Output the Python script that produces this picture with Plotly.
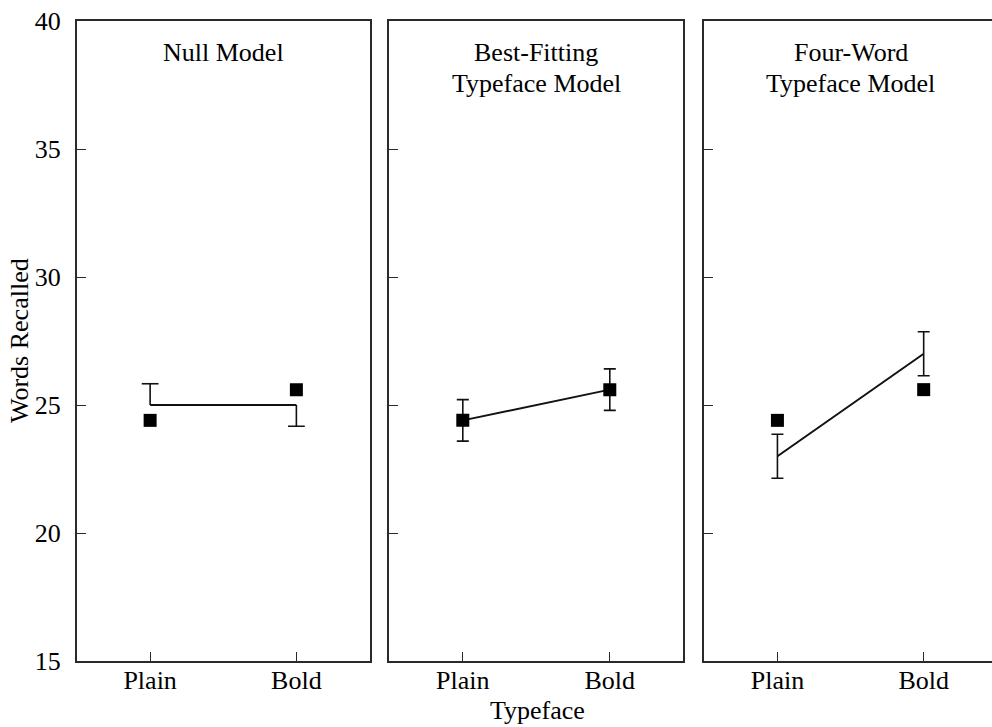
import plotly.graph_objects as go

# ---- data ----
categories = ["Plain", "Bold"]
cat_pos = [1, 2]
observed = [24.4, 25.6]            # observed means (square markers)

null_pred = [25.0, 25.0]
null_err_up = [0.83, 0.0]
null_err_down = [0.0, 0.83]

best_pred = [24.4, 25.6]
best_err = [0.81, 0.81]

four_pred = [23.0, 27.0]
four_err = [0.86, 0.86]

panel_titles = [["Null Model"], ["Best-Fitting", "Typeface Model"], ["Four-Word", "Typeface Model"]]
y_ticks = [15, 20, 25, 30, 35, 40]

FONT = "Liberation Serif"
INK = "#111111"
AX = "#2a2a2a"

fig = go.Figure()

def model_line(xa, ya, pred, err_plus, err_minus, caps=True):
    fig.add_trace(go.Scatter(
        x=cat_pos, y=pred, mode="lines", xaxis=xa, yaxis=ya,
        line=dict(color=INK, width=2), showlegend=False, hoverinfo="skip",
        error_y=dict(type="data", symmetric=False, array=err_plus, arrayminus=err_minus,
                     color=INK, thickness=1.6, width=6 if caps else 0)))

def observed_pts(xa, ya):
    fig.add_trace(go.Scatter(
        x=cat_pos, y=observed, mode="markers", xaxis=xa, yaxis=ya,
        marker=dict(symbol="square", size=13, color="black"),
        showlegend=False))

# Panel 1: null model, one-sided error bars
model_line("x", "y", null_pred, null_err_up, null_err_down, caps=False)
cap_x = []
cap_y = []
for i in range(2):
    if null_err_up[i] > 0:
        cap_x.append(cat_pos[i]); cap_y.append(null_pred[i] + null_err_up[i])
    if null_err_down[i] > 0:
        cap_x.append(cat_pos[i]); cap_y.append(null_pred[i] - null_err_down[i])
fig.add_trace(go.Scatter(
    x=cap_x, y=cap_y, mode="markers", xaxis="x", yaxis="y",
    marker=dict(symbol="line-ew", size=12, line=dict(color=INK, width=1.6)),
    showlegend=False, hoverinfo="skip"))
observed_pts("x", "y")

# Panel 2
model_line("x2", "y2", best_pred, best_err, best_err)
observed_pts("x2", "y2")

# Panel 3
model_line("x3", "y3", four_pred, four_err, four_err)
observed_pts("x3", "y3")

W, H = 992, 727
ml, mr, mt, mb = 77, 0, 21, 66
pw = W - ml - mr
ph = H - mt - mb

def px_x(p):
    return (p - ml) / pw

def px_y(p):
    return 1 - (p - mt) / ph

domains = [[0, px_x(369.5)], [px_x(389.3), px_x(683.3)], [px_x(704.3), 1.0]]
unit = (369.5 - 77) / 2.0
ranges = [[0.5, 2.5], [0.5, 2.5], [0.5, 0.5 + (992 - 704.3) / unit]]

common_x = dict(showline=True, linecolor=AX, linewidth=2, ticks="inside", ticklen=9,
                tickwidth=1, tickcolor=AX, tickvals=cat_pos, ticktext=categories,
                showgrid=False, zeroline=False, mirror=True, ticklabelstandoff=-5,
                tickfont=dict(family=FONT, size=26, color="black"))
common_y = dict(showline=True, linecolor=AX, linewidth=2, ticks="inside", ticklen=9,
                tickwidth=1, tickcolor=AX, tickvals=y_ticks, range=[15, 40],
                showgrid=False, zeroline=False,
                tickfont=dict(family=FONT, size=26, color="black"))

layout = dict(
    width=W, height=H,
    margin=dict(l=ml, r=mr, t=mt, b=mb),
    plot_bgcolor="white", paper_bgcolor="white",
    font=dict(family=FONT, size=26, color="black"),
    showlegend=False,
)
names = ["", "2", "3"]
for i, n in enumerate(names):
    layout["xaxis" + n] = dict(common_x, domain=domains[i], range=ranges[i],
                               anchor="y" + n)
    yd = dict(common_y, anchor="x" + n, showticklabels=(i == 0),
              mirror=(i < 2), ticklabelstandoff=9)
    if i > 0:
        yd["matches"] = "y"
    layout["yaxis" + n] = yd

fig.update_layout(**layout)

title_centers = [223, 536, 850.5]
line_y = [52, 83]
for lines, cx in zip(panel_titles, title_centers):
    for k, t in enumerate(lines):
        fig.add_annotation(text=t, xref="paper", yref="paper", x=px_x(cx), y=px_y(line_y[k]),
                           xanchor="center", yanchor="middle", showarrow=False,
                           font=dict(family=FONT, size=26, color="black"))

fig.add_annotation(text="Typeface", xref="paper", yref="paper", x=px_x(537), y=px_y(710),
                   xanchor="center", yanchor="middle", showarrow=False,
                   font=dict(family=FONT, size=26, color="black"))
fig.add_annotation(text="Words Recalled", xref="paper", yref="paper", x=px_x(19), y=px_y(341),
                   xanchor="center", yanchor="middle", textangle=-90, showarrow=False,
                   font=dict(family=FONT, size=26, color="black"))

fig.write_html("out.html", config={"displayModeBar": False},
               post_script="document.body.style.margin='0';document.body.style.overflow='hidden';")
